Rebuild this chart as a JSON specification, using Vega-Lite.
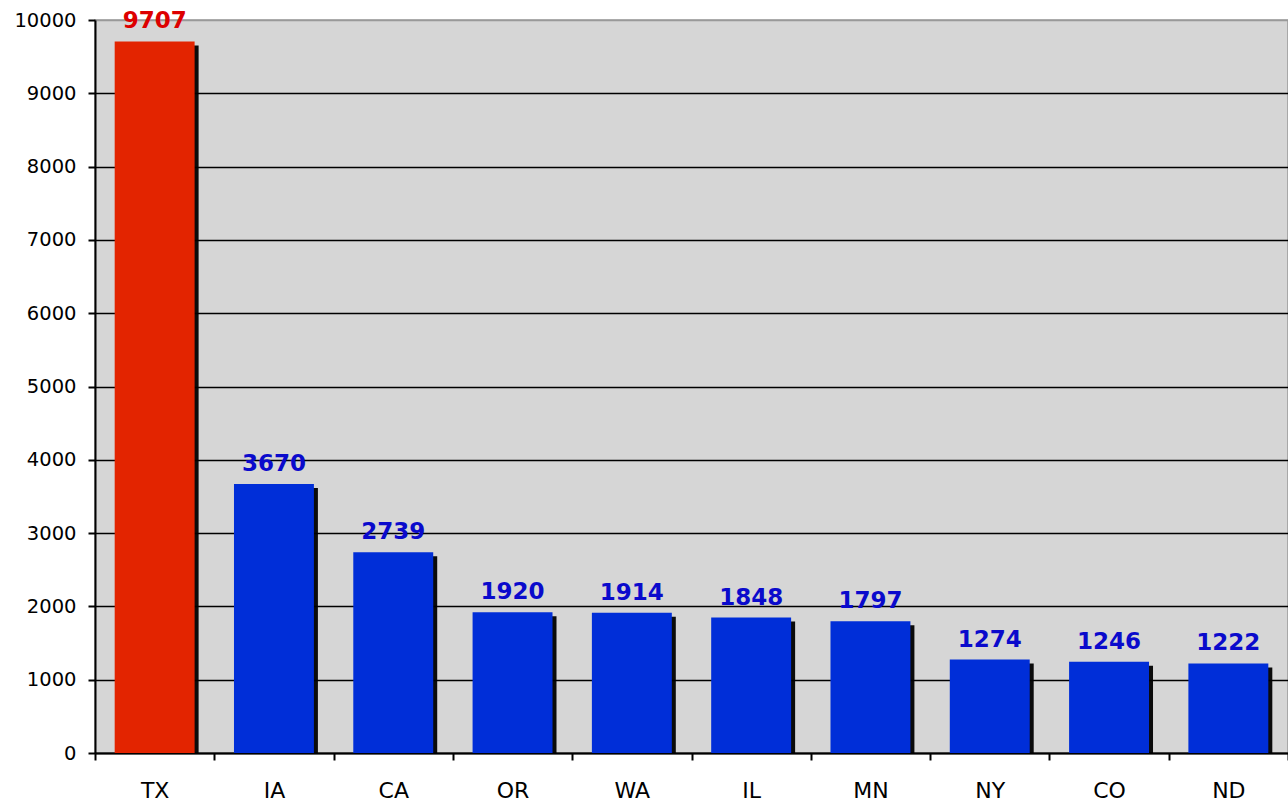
{
  "$schema": "https://vega.github.io/schema/vega-lite/v6.json",
  "width": 1193,
  "height": 733,
  "autosize": {"type": "none"},
  "padding": {"left": 95, "top": 20, "right": 0, "bottom": 49},
  "background": "white",
  "config": {
    "view": {"fill": "#d6d6d6", "stroke": "#999999", "strokeWidth": 1.5},
    "font": "DejaVu Sans"
  },
  "data": {
    "values": [
      {"state": "TX", "value": 9707, "hl": "yes"},
      {"state": "IA", "value": 3670, "hl": "no"},
      {"state": "CA", "value": 2739, "hl": "no"},
      {"state": "OR", "value": 1920, "hl": "no"},
      {"state": "WA", "value": 1914, "hl": "no"},
      {"state": "IL", "value": 1848, "hl": "no"},
      {"state": "MN", "value": 1797, "hl": "no"},
      {"state": "NY", "value": 1274, "hl": "no"},
      {"state": "CO", "value": 1246, "hl": "no"},
      {"state": "ND", "value": 1222, "hl": "no"}
    ]
  },
  "encoding": {
    "x": {
      "field": "state", "type": "nominal", "sort": null,
      "scale": {"paddingInner": 0, "paddingOuter": 0},
      "axis": {
        "title": null, "labelAngle": 0, "labelFontSize": 22, "labelColor": "black",
        "labelPadding": 20, "tickBand": "extent", "tickSize": 7, "tickColor": "black",
        "tickWidth": 2, "domainColor": "black", "domainWidth": 2, "grid": false
      }
    },
    "y": {
      "field": "value", "type": "quantitative",
      "scale": {"domain": [0, 10000], "nice": false},
      "axis": {
        "title": null, "values": [0,1000,2000,3000,4000,5000,6000,7000,8000,9000,10000],
        "labelOverlap": false,
        "format": "d", "labelFontSize": 19.5, "labelColor": "black", "labelPadding": 12,
        "tickSize": 7, "tickColor": "black", "tickWidth": 2,
        "domainColor": "black", "domainWidth": 2,
        "grid": true, "gridWidth": 1.5,
        "gridColor": {"condition": {"test": "datum.value == 10000", "value": "#999999"}, "value": "black"}
      }
    }
  },
  "layer": [
    {
      "mark": {"type": "bar", "color": "black", "xOffset": 4, "yOffset": 4, "opacity": 0.95, "width": {"band": 0.67}},
      "encoding": {"y2": {"datum": 0}}
    },
    {
      "mark": {"type": "bar", "width": {"band": 0.67}},
      "encoding": {
        "color": {
          "field": "hl", "type": "nominal", "legend": null,
          "scale": {"domain": ["yes", "no"], "range": ["#e32400", "#002ed8"]}
        }
      }
    },
    {
      "mark": {"type": "text", "fontWeight": "bold", "fontSize": 23, "baseline": "alphabetic", "dy": -13},
      "encoding": {
        "text": {"field": "value", "type": "quantitative", "format": "d"},
        "color": {
          "field": "hl", "type": "nominal", "legend": null,
          "scale": {"domain": ["yes", "no"], "range": ["#dd0000", "#0a0acc"]}
        }
      }
    }
  ],
  "resolve": {"scale": {"color": "independent"}}
}
